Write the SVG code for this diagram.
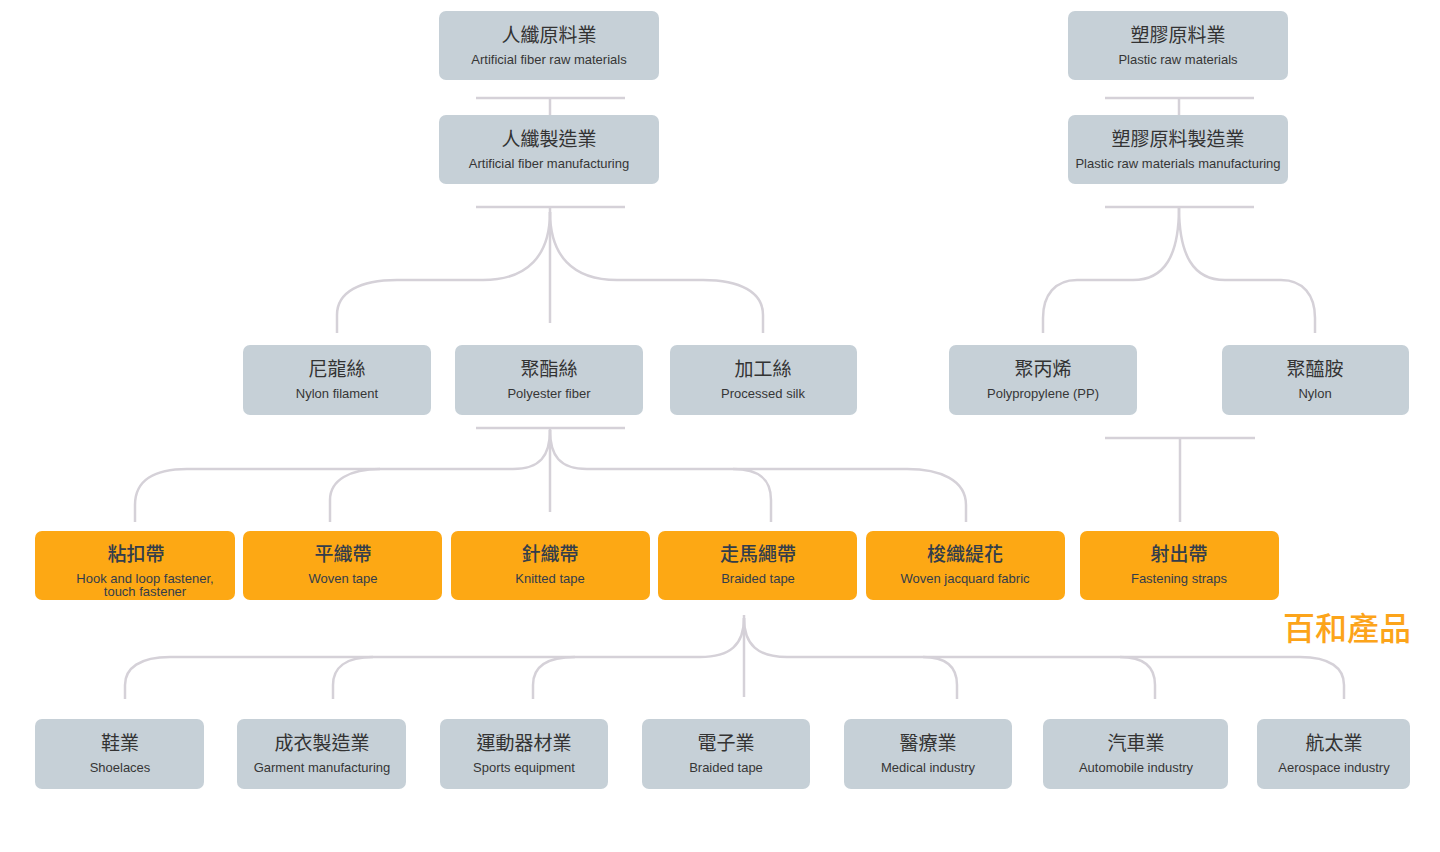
<svg xmlns="http://www.w3.org/2000/svg" width="1440" height="852" viewBox="0 0 1440 852">
<style>
.g{fill:#c6d0d7}
.o{fill:#fda814}
.zh{font-family:"Noto Sans CJK TC","Noto Sans CJK SC",sans-serif;font-size:19px;text-anchor:middle;fill:#333333}
.en{font-family:"Liberation Sans",Arial,sans-serif;font-size:13px;text-anchor:middle;fill:#363636}
.oz{fill:#333d4b;font-weight:500}
.oe{fill:#333d4b}
.c{fill:none;stroke:#d5d1d8;stroke-width:2.5}
</style>
<rect width="1440" height="852" fill="#ffffff"/>
<g id="connectors" class="c">
<path d="M476,98 H625 M550,98 V115"/>
<path d="M1105,98 H1254 M1179,98 V115"/>
<path d="M476,207 H625 M550,207 V323"/>
<path d="M550,212 C550,255 528,280 483,280 H397 C360,280 337,292 337,315 V333"/>
<path d="M550,212 C550,255 572,280 617,280 H703 C740,280 763,292 763,315 V333"/>
<path d="M1105,207 H1254"/>
<path d="M1179,207 C1179,255 1165,280 1133,280 H1077 C1055,280 1043,295 1043,318 V333"/>
<path d="M1179,207 C1179,255 1193,280 1225,280 H1281 C1303,280 1315,295 1315,318 V333"/>
<path d="M476,428 H625 M550,428 V512"/>
<path d="M550,430 C550,456 540,469 513,469 H187 C155,469 135,480 135,505 V522"/>
<path d="M380,469 C350,469 330,480 330,500 V522"/>
<path d="M550,430 C550,456 560,469 587,469 H907 C940,469 966,480 966,505 V522"/>
<path d="M733,469 C760,469 771,480 771,500 V522"/>
<path d="M1105,438 H1255 M1180,438 V522"/>
<path d="M744,615 V697"/>
<path d="M744,618 C744,645 730,657 700,657 H170 C140,657 125,668 125,685 V699"/>
<path d="M373,657 C345,657 333,668 333,685 V699"/>
<path d="M575,657 C545,657 533,668 533,685 V699"/>
<path d="M744,618 C744,645 758,657 787,657 H1300 C1330,657 1344,668 1344,685 V699"/>
<path d="M923,657 C948,657 957,668 957,685 V699"/>
<path d="M1120,657 C1145,657 1155,668 1155,685 V699"/>
</g>
<g id="n1"><rect class="g" x="439" y="11" width="220" height="69" rx="7"/><text class="zh" x="549" y="42">人纖原料業</text><text class="en" x="549" y="64">Artificial fiber raw materials</text></g>
<g id="n2"><rect class="g" x="439" y="115" width="220" height="69" rx="7"/><text class="zh" x="549" y="146">人纖製造業</text><text class="en" x="549" y="168">Artificial fiber manufacturing</text></g>
<g id="n3"><rect class="g" x="1068" y="11" width="220" height="69" rx="7"/><text class="zh" x="1178" y="42">塑膠原料業</text><text class="en" x="1178" y="64">Plastic raw materials</text></g>
<g id="n4"><rect class="g" x="1068" y="115" width="220" height="69" rx="7"/><text class="zh" x="1178" y="146">塑膠原料製造業</text><text class="en" x="1178" y="168">Plastic raw materials manufacturing</text></g>
<g id="n5"><rect class="g" x="243" y="345" width="188" height="70" rx="7"/><text class="zh" x="337" y="376">尼龍絲</text><text class="en" x="337" y="398">Nylon filament</text></g>
<g id="n6"><rect class="g" x="455" y="345" width="188" height="70" rx="7"/><text class="zh" x="549" y="376">聚酯絲</text><text class="en" x="549" y="398">Polyester fiber</text></g>
<g id="n7"><rect class="g" x="670" y="345" width="187" height="70" rx="7"/><text class="zh" x="763" y="376">加工絲</text><text class="en" x="763" y="398">Processed silk</text></g>
<g id="n8"><rect class="g" x="949" y="345" width="188" height="70" rx="7"/><text class="zh" x="1043" y="376">聚丙烯</text><text class="en" x="1043" y="398">Polypropylene (PP)</text></g>
<g id="n9"><rect class="g" x="1222" y="345" width="187" height="70" rx="7"/><text class="zh" x="1315" y="376">聚醯胺</text><text class="en" x="1315" y="398">Nylon</text></g>
<g id="p1"><rect class="o" x="35" y="531" width="200" height="69" rx="7"/><text class="zh oz" x="136" y="561">粘扣帶</text><text class="en oe" x="145" y="583">Hook and loop fastener,</text><text class="en oe" x="145" y="596">touch fastener</text></g>
<g id="p2"><rect class="o" x="243" y="531" width="199" height="69" rx="7"/><text class="zh oz" x="343" y="561">平織帶</text><text class="en oe" x="343" y="583">Woven tape</text></g>
<g id="p3"><rect class="o" x="451" y="531" width="199" height="69" rx="7"/><text class="zh oz" x="550" y="561">針織帶</text><text class="en oe" x="550" y="583">Knitted tape</text></g>
<g id="p4"><rect class="o" x="658" y="531" width="199" height="69" rx="7"/><text class="zh oz" x="758" y="561">走馬繩帶</text><text class="en oe" x="758" y="583">Braided tape</text></g>
<g id="p5"><rect class="o" x="866" y="531" width="199" height="69" rx="7"/><text class="zh oz" x="965" y="561">梭織緹花</text><text class="en oe" x="965" y="583">Woven jacquard fabric</text></g>
<g id="p6"><rect class="o" x="1080" y="531" width="199" height="69" rx="7"/><text class="zh oz" x="1179" y="561">射出帶</text><text class="en oe" x="1179" y="583">Fastening straps</text></g>
<text x="1347" y="640" font-family="Noto Sans CJK TC, Noto Sans CJK SC, sans-serif" font-size="32" font-weight="500" text-anchor="middle" fill="#fca41a">百和產品</text>
<g id="b1"><rect class="g" x="35" y="719" width="169" height="70" rx="7"/><text class="zh" x="120" y="750">鞋業</text><text class="en" x="120" y="772">Shoelaces</text></g>
<g id="b2"><rect class="g" x="237" y="719" width="169" height="70" rx="7"/><text class="zh" x="322" y="750">成衣製造業</text><text class="en" x="322" y="772">Garment manufacturing</text></g>
<g id="b3"><rect class="g" x="440" y="719" width="168" height="70" rx="7"/><text class="zh" x="524" y="750">運動器材業</text><text class="en" x="524" y="772">Sports equipment</text></g>
<g id="b4"><rect class="g" x="642" y="719" width="168" height="70" rx="7"/><text class="zh" x="726" y="750">電子業</text><text class="en" x="726" y="772">Braided tape</text></g>
<g id="b5"><rect class="g" x="844" y="719" width="168" height="70" rx="7"/><text class="zh" x="928" y="750">醫療業</text><text class="en" x="928" y="772">Medical industry</text></g>
<g id="b6"><rect class="g" x="1043" y="719" width="185" height="70" rx="7"/><text class="zh" x="1136" y="750">汽車業</text><text class="en" x="1136" y="772">Automobile industry</text></g>
<g id="b7"><rect class="g" x="1257" y="719" width="153" height="70" rx="7"/><text class="zh" x="1334" y="750">航太業</text><text class="en" x="1334" y="772">Aerospace industry</text></g>
</svg>
